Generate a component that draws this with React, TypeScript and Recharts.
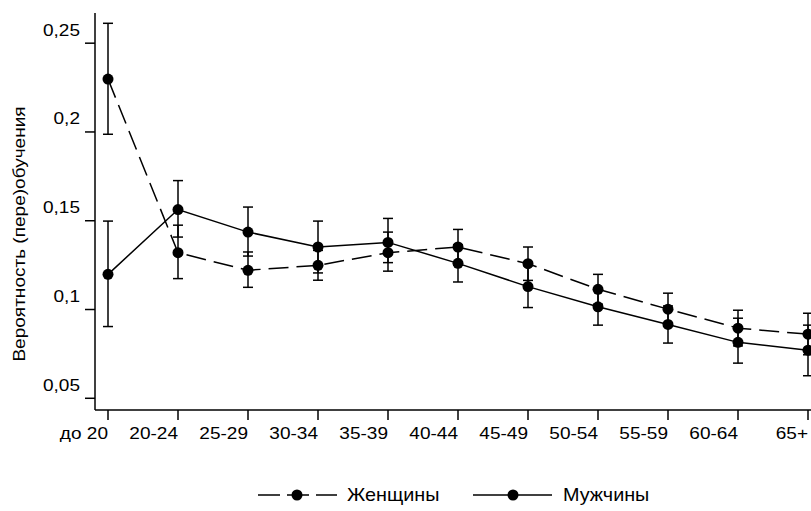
import React from "react";
import { LineChart, Line, XAxis, YAxis, ErrorBar } from "recharts";

const categories = ["до 20", "20-24", "25-29", "30-34", "35-39", "40-44", "45-49", "50-54", "55-59", "60-64", "65+"];

const womenValues = [0.2298, 0.132, 0.1221, 0.1249, 0.132, 0.1352, 0.1258, 0.1114, 0.1002, 0.0895, 0.0861];
const womenLow = [0.1987, 0.1174, 0.1125, 0.1165, 0.1216, 0.125, 0.1164, 0.103, 0.091, 0.0795, 0.0745];
const womenHigh = [0.2612, 0.1475, 0.1324, 0.1333, 0.1436, 0.1451, 0.1352, 0.1198, 0.1092, 0.0996, 0.0979];

const menValues = [0.1198, 0.1563, 0.1436, 0.1352, 0.1378, 0.126, 0.1129, 0.1015, 0.0916, 0.0815, 0.0771];
const menLow = [0.0904, 0.1408, 0.1301, 0.1206, 0.1264, 0.1155, 0.1011, 0.0912, 0.0811, 0.0698, 0.0627];
const menHigh = [0.1498, 0.1726, 0.1577, 0.1498, 0.1513, 0.1365, 0.1247, 0.112, 0.102, 0.0951, 0.0912];

const yTicks = [0.05, 0.1, 0.15, 0.2, 0.25];
const yDomain = [0.0434, 0.267];

const data = categories.map((c, i) => ({
  cat: c,
  women: womenValues[i],
  womenErr: [womenValues[i] - womenLow[i], womenHigh[i] - womenValues[i]],
  men: menValues[i],
  menErr: [menValues[i] - menLow[i], menHigh[i] - menValues[i]],
}));

const FONT = "'Liberation Sans', Arial, sans-serif";
const SX = 1.12;
const FS = 17;

const fmt = (v: number) => String(v).replace(".", ",");

const XTick = (props: any) => {
  const { x, payload } = props;
  return (
    <g transform={`translate(${payload.coordinate !== undefined ? payload.coordinate : x},${410})`}>
      <text
        transform={`scale(${SX},1)`}
        x={0}
        y={29.5}
        textAnchor="end"
        fontFamily={FONT}
        fontSize={FS}
        fill="#000"
      >
        {payload.value}
      </text>
    </g>
  );
};

const YTick = (props: any) => {
  const { y, payload } = props;
  return (
    <g transform={`translate(80,${y})`}>
      <text
        transform={`scale(${SX},1)`}
        x={0}
        y={-7.5}
        textAnchor="end"
        fontFamily={FONT}
        fontSize={FS}
        fill="#000"
      >
        {fmt(payload.value)}
      </text>
    </g>
  );
};

const YLabel = () => (
  <g transform="translate(25,234) rotate(-90)">
    <text transform={`scale(${SX},1)`} textAnchor="middle" fontFamily={FONT} fontSize={FS} fill="#000">
      Вероятность (пере)обучения
    </text>
  </g>
);

export default function App() {
  return (
    <div style={{ position: "absolute", left: 0, top: 0, width: 811, height: 511, background: "#fff" }}>
      <LineChart
        width={811}
        height={511}
        data={data}
        margin={{ top: 13, right: 0, bottom: 0, left: 0 }}
      >
        <XAxis
          dataKey="cat"
          height={101}
          padding={{ left: 13, right: 3 }}
          tickSize={10}
          tickLine={{ stroke: "#000", strokeWidth: 1.5 }}
          axisLine={{ stroke: "#000", strokeWidth: 1.5 }}
          tick={<XTick />}
          interval={0}
        />
        <YAxis
          width={95}
          domain={yDomain}
          ticks={yTicks}
          allowDataOverflow
          tickSize={10}
          tickMargin={5}
          tickLine={{ stroke: "#000", strokeWidth: 1.5 }}
          axisLine={{ stroke: "#000", strokeWidth: 1.5 }}
          tick={<YTick />}
          label={{ content: () => <YLabel /> }}
        />
        <Line
          dataKey="women"
          stroke="#000"
          strokeWidth={1.5}
          strokeDasharray="20 8"
          dot={{ r: 5.5, fill: "#000", stroke: "none" }}
          isAnimationActive={false}
        >
          <ErrorBar dataKey="womenErr" direction="y" width={5} stroke="#000" strokeWidth={1.5} />
        </Line>
        <Line
          dataKey="men"
          stroke="#000"
          strokeWidth={1.5}
          dot={{ r: 5.5, fill: "#000", stroke: "none" }}
          isAnimationActive={false}
        >
          <ErrorBar dataKey="menErr" direction="y" width={5} stroke="#000" strokeWidth={1.5} />
        </Line>
      </LineChart>
      <svg width={811} height={40} style={{ position: "absolute", left: 0, top: 475 }}>
        <g stroke="#000" strokeWidth={1.5}>
          <line x1={258} y1={20} x2={337} y2={20} strokeDasharray="22 7" />
          <line x1={473} y1={20} x2={552} y2={20} />
        </g>
        <circle cx={297} cy={20} r={5.5} fill="#000" />
        <circle cx={513} cy={20} r={5.5} fill="#000" />
        <g transform="translate(347,26)">
          <text transform="scale(1.1,1)" fontFamily={FONT} fontSize={18} fill="#000">Женщины</text>
        </g>
        <g transform="translate(563,26)">
          <text transform="scale(1.1,1)" fontFamily={FONT} fontSize={18} fill="#000">Мужчины</text>
        </g>
      </svg>
    </div>
  );
}
